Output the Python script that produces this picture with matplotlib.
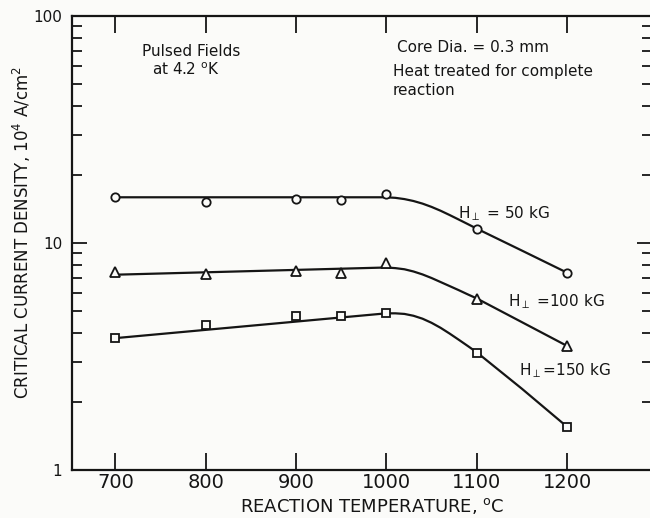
import numpy as np
import matplotlib.pyplot as plt
from matplotlib.ticker import LogLocator, FixedLocator, NullFormatter

## Data
temps = [700, 800, 900, 950, 1000, 1100, 1200]
jc_50 = [15.9, 15.2, 15.6, 15.5, 16.4, 11.5, 7.4]     # circles
jc_100 = [7.45, 7.3, 7.5, 7.4, 8.2, 5.67, 3.52]       # triangles
jc_150 = [3.81, 4.35, 4.77, 4.77, 4.92, 3.28, 1.55]   # squares

# hand drawn fit curves
fit_t = [700, 1000, 1010, 1020, 1030, 1040, 1050, 1060, 1070, 1080, 1090, 1100, 1150, 1200]
fit_50 = [15.9, 15.9, 15.81, 15.61, 15.31, 14.91, 14.42, 13.87, 13.28, 12.69, 12.12, 11.57, 9.26, 7.4]
fit_100 = [7.25, 7.8, 7.75, 7.66, 7.49, 7.27, 7.01, 6.73, 6.46, 6.2, 5.94, 5.7, 4.48, 3.52]
fit_150 = [3.81, 4.9, 4.9, 4.87, 4.78, 4.64, 4.45, 4.23, 3.99, 3.75, 3.52, 3.3, 2.28, 1.55]

x_ticks = [700, 800, 900, 1000, 1100, 1200]

ink = "#151515"
paper = "#fbfbf9"
plt.rcParams['font.family'] = ['DejaVu Sans']

fig = plt.figure(figsize=(6.5, 5.18), dpi=100, facecolor=paper)
ax = fig.add_axes([72/650, 48/518, 580/650, 454/518])
ax.set_facecolor(paper)

## Curves + markers
for fy in (fit_50, fit_100, fit_150):
    ax.plot(fit_t, fy, color=ink, lw=1.6, zorder=2, solid_joinstyle="round")

mk = dict(ls="none", mfc=paper, mec=ink, mew=1.3, zorder=3)
ax.plot(temps, jc_50, marker="o", ms=6, **mk)
ax.plot(temps, jc_100, marker="^", ms=6.5, **mk)
ax.plot(temps, jc_150, marker="s", ms=5.5, **mk)

## Axes setup
ax.set_yscale("log")
ax.set_ylim(1, 100)
ax.set_xlim(652, 1294)

ax.xaxis.set_major_locator(FixedLocator(x_ticks))
ax.yaxis.set_minor_locator(LogLocator(base=10, subs=np.arange(2, 10), numticks=5))
ax.yaxis.set_minor_formatter(NullFormatter())
ax.set_yticks([1, 10, 100])
ax.set_yticklabels(["1", "10", "100"])

ax.tick_params(axis="x", which="major", direction="in", length=12, width=1.3,
               top=True, bottom=True, labelsize=14, pad=2, colors=ink)
ax.tick_params(axis="y", which="major", direction="in", length=11, width=1.3,
               left=True, right=True, labelsize=11, pad=7, colors=ink)
ax.tick_params(axis="y", which="minor", direction="in", length=7, width=1.3,
               left=True, right=True, colors=ink)

for s in ax.spines.values():
    s.set_linewidth(1.6)
    s.set_color(ink)

ax.set_xlabel("REACTION TEMPERATURE, $\\mathregular{^{o}}$C", fontsize=13, color=ink)
ax.xaxis.set_label_coords(0.517, -0.057)
ax.set_ylabel("CRITICAL CURRENT DENSITY, 10$\\mathregular{^{4}}$ A/cm$\\mathregular{^{2}}$",
              fontsize=12, color=ink)
ax.yaxis.set_label_coords(-0.068, 0.524)

## Annotations
txt = dict(fontsize=11, color=ink)
ax.text(730, 66.5, "Pulsed Fields", **txt)
ax.text(741, 55, "at 4.2 $\\mathregular{^{o}}$K", **txt)
ax.text(1012, 69.4, "Core Dia. = 0.3 mm", **txt)
ax.text(1007, 54.4, "Heat treated for complete", **txt)
ax.text(1007, 44.9, "reaction", **txt)

ax.text(1079, 12.9, "H$_{\\perp}$ = 50 kG", **txt)
ax.text(1135, 5.28, "H$_{\\perp}$ =100 kG", **txt)
ax.text(1147, 2.62, "H$_{\\perp}$=150 kG", **txt)

fig.savefig("out.png", dpi=100, facecolor=fig.get_facecolor())
